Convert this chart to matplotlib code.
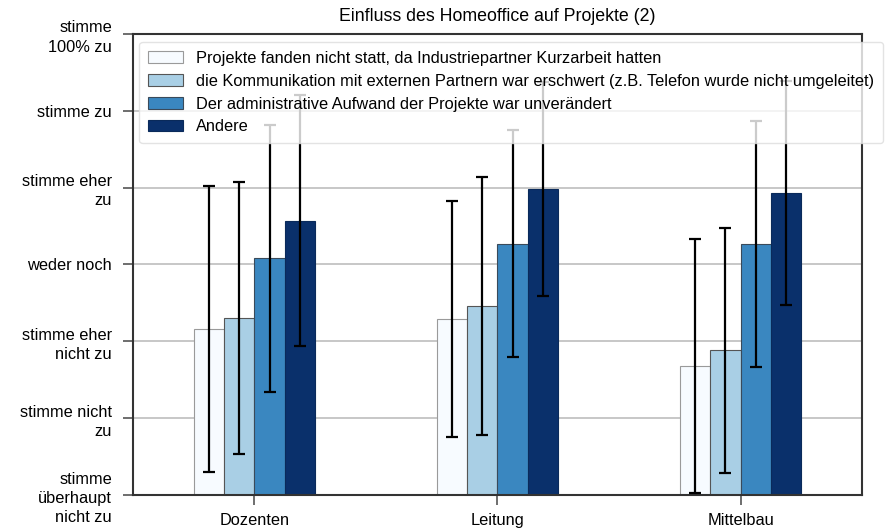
import numpy as np
import matplotlib
matplotlib.use('Agg')
import matplotlib.pyplot as plt

plt.rcParams['font.family'] = ['Liberation Sans', 'DejaVu Sans']

# Daten
gruppen = ['Dozenten', 'Leitung', 'Mittelbau']
serien = ['Projekte fanden nicht statt, da Industriepartner Kurzarbeit hatten',
          'die Kommunikation mit externen Partnern war erschwert (z.B. Telefon wurde nicht umgeleitet)',
          'Der administrative Aufwand der Projekte war unverändert',
          'Andere']
mittel = [[2.16, 2.29, 1.68],
          [2.30, 2.46, 1.88],
          [3.08, 3.27, 3.27],
          [3.57, 3.98, 3.93]]
fehler = [[1.86, 1.53, 1.65],
          [1.77, 1.68, 1.60],
          [1.74, 1.48, 1.60],
          [1.63, 1.39, 1.46]]
farben = ['#f7fbff', '#a9cfe5', '#3a87c0', '#0a306b']
kanten = ['#9a9a9a', '#555555', '#3a4a5a', '#0a2a5a']
skala = ['stimme\nüberhaupt\nnicht zu', 'stimme nicht\nzu', 'stimme eher\nnicht zu',
         'weder noch', 'stimme eher\nzu', 'stimme zu', 'stimme\n100% zu']

fig = plt.figure(figsize=(8.86, 5.31), dpi=100)
ax = fig.add_axes([0.150, 0.068, 0.823, 0.868])

x = np.arange(len(gruppen))
breite = 0.125
for i in range(len(serien)):
	pos = x - 0.25 + breite * (i + 0.5)
	ax.bar(pos, mittel[i], breite, color=farben[i], edgecolor=kanten[i], linewidth=0.8,
		label=serien[i], zorder=2)
	ax.errorbar(pos, mittel[i], yerr=fehler[i], fmt='none', ecolor='black',
		elinewidth=1.6, capsize=4, capthick=1.6, zorder=3)

ax.set_xlim(-0.5, 2.5)
ax.set_ylim(0, 6)
ax.set_xticks(x)
ax.set_xticklabels(gruppen, fontsize=11.8)
ax.set_yticks(range(7))
ax.set_yticklabels(skala, fontsize=11.8, ha='right', linespacing=1.35)
ax.yaxis.grid(True, color='#bdbdbd', linewidth=1.2, zorder=0)
ax.set_axisbelow(True)
for s in ax.spines.values():
	s.set_color('#333333')
	s.set_linewidth(1.5)
ax.tick_params(axis='both', length=7, width=1.2, color='#555555')
ax.tick_params(axis='y', pad=8)
ax.tick_params(axis='x', pad=6)

ax.set_title('Einfluss des Homeoffice auf Projekte (2)', fontsize=12.8, pad=9)
ax.legend(loc='upper left', bbox_to_anchor=(0.009, 0.983), borderaxespad=0,
	fontsize=11.8, handlelength=2.1, framealpha=0.8, edgecolor='#dddddd',
	fancybox=True, labelspacing=0.48, borderpad=0.55)

plt.savefig('out.png', dpi=100)
